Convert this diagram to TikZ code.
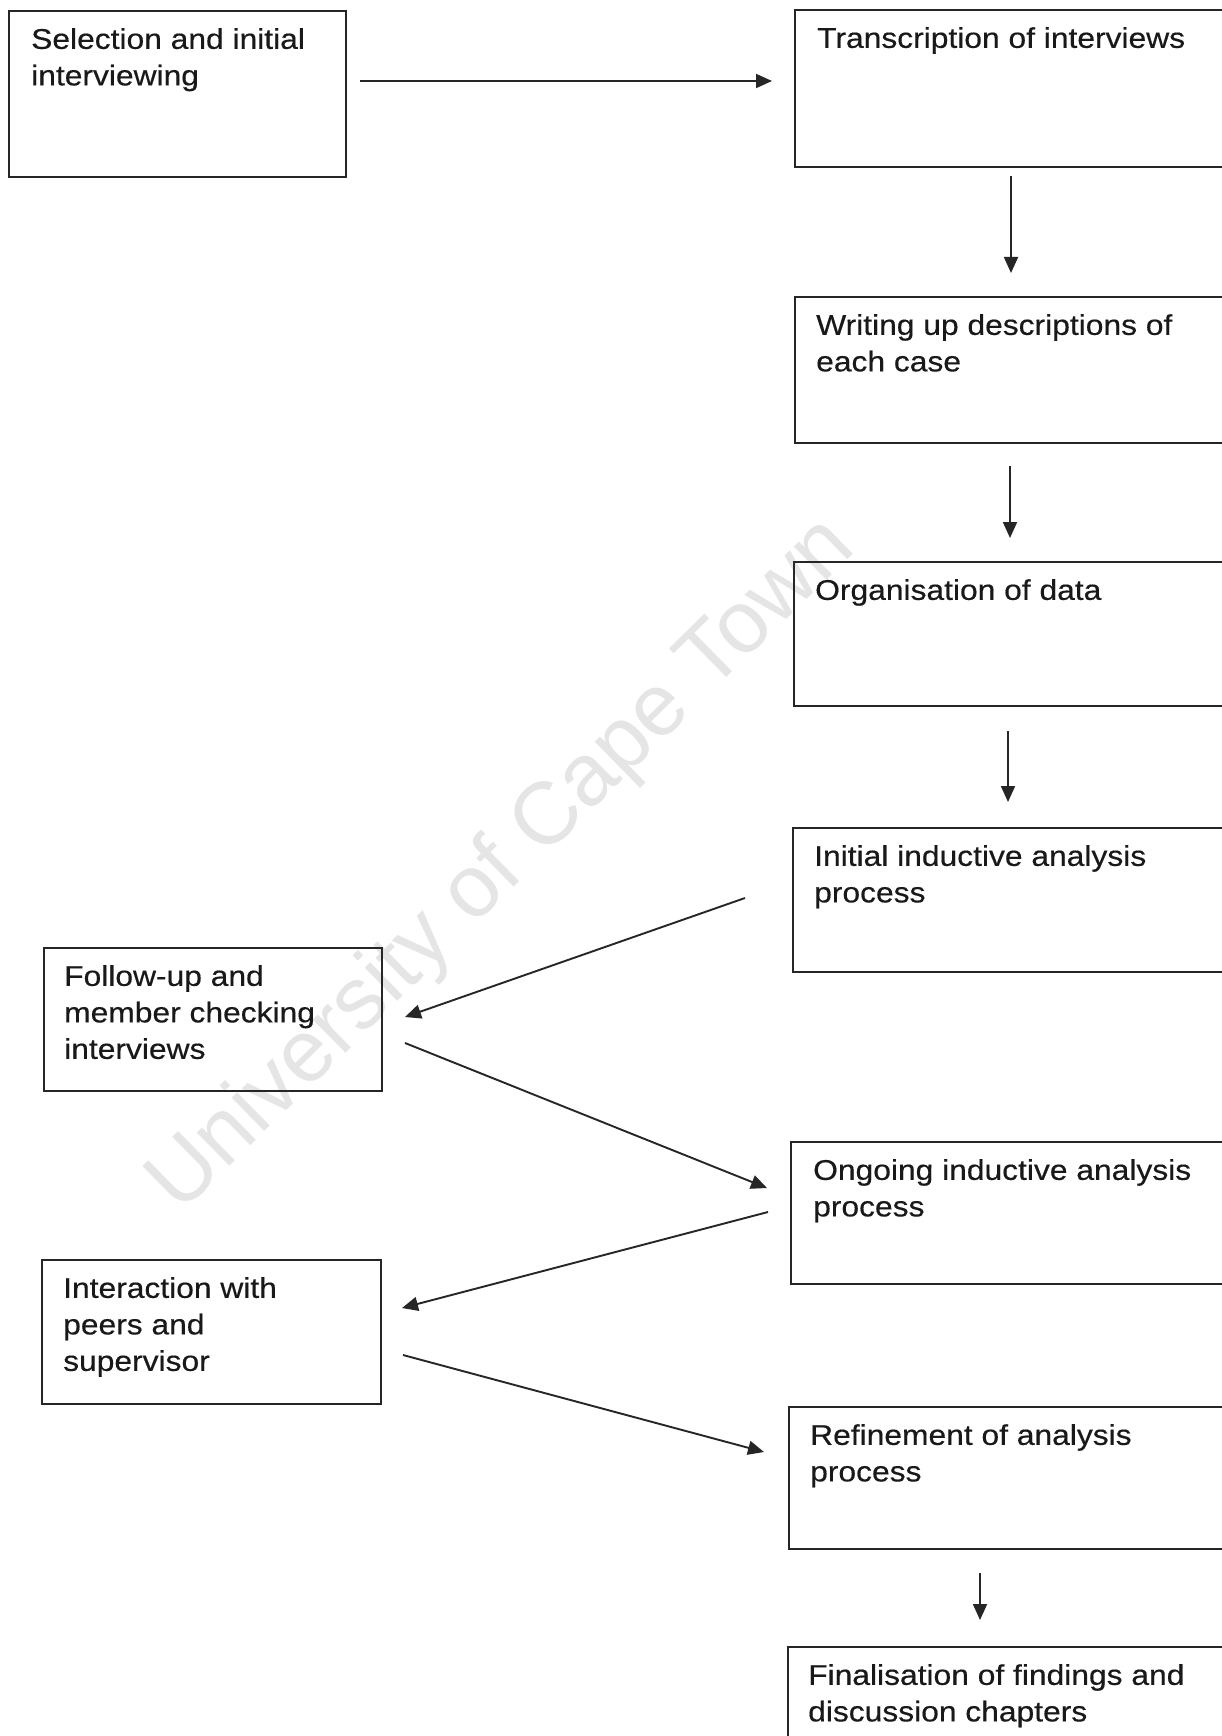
\documentclass[tikz,border=0pt]{standalone}
\usepackage{fontspec}
\newfontfamily\boxfont{Liberation Sans}[FakeStretch=1.115,FakeBold=0.4]
\newfontfamily\wmfont{Liberation Sans}
\usetikzlibrary{arrows.meta}
\begin{document}
\begin{tikzpicture}[x=1pt,y=-1pt,
  box/.style={draw=black!85, line width=1.8pt, anchor=north west, inner sep=0pt, outer sep=0pt},
  lbl/.style={anchor=north west, inner sep=0pt, align=left, font=\boxfont\fontsize{28.5}{36.5}\selectfont, text=black!90},
  arr/.style={draw=black!85, line width=1.9pt, -{Triangle[length=16pt,width=14pt]}},
  wm/.style={rotate=44.5, inner sep=0pt, font=\wmfont\fontsize{88}{100}\selectfont, text=black!10}]
\useasboundingbox (0,0) rectangle (1222,1736);
\clip (0,0) rectangle (1222,1736);
\fill[white] (0,0) rectangle (1222,1736);
% watermark
\node[wm] (wmark) at (503,866) {University of Cape Town};
% boxes
\node[box, minimum width=337pt, minimum height=166pt] (a) at (9,11) {};
\node[box, minimum width=445pt, minimum height=157pt] (b) at (795,10) {};
\node[box, minimum width=445pt, minimum height=146pt] (c) at (795,297) {};
\node[box, minimum width=446pt, minimum height=144pt] (d) at (794,562) {};
\node[box, minimum width=447pt, minimum height=144pt] (e) at (793,828) {};
\node[box, minimum width=338pt, minimum height=143pt] (f) at (44,948) {};
\node[box, minimum width=449pt, minimum height=142pt] (g) at (791,1142) {};
\node[box, minimum width=339pt, minimum height=144pt] (h) at (42,1260) {};
\node[box, minimum width=451pt, minimum height=142pt] (i) at (789,1407) {};
\node[box, minimum width=452pt, minimum height=140pt] (j) at (788,1647) {};
% texts
\node[lbl] (ta) at ([xshift=22pt,yshift=-17pt]a.north west) {Selection and initial\\interviewing};
\node[lbl] (tb) at ([xshift=22pt,yshift=-17pt]b.north west) {Transcription of interviews};
\node[lbl] (tc) at ([xshift=21pt,yshift=-17pt]c.north west) {Writing up descriptions of\\each case};
\node[lbl] (td) at ([xshift=21pt,yshift=-17pt]d.north west) {Organisation of data};
\node[lbl] (te) at ([xshift=21pt,yshift=-17pt]e.north west) {Initial inductive analysis\\process};
\node[lbl] (tf) at ([xshift=20pt,yshift=-17pt]f.north west) {Follow-up and\\member checking\\interviews};
\node[lbl] (tg) at ([xshift=22pt,yshift=-17pt]g.north west) {Ongoing inductive analysis\\process};
\node[lbl] (th) at ([xshift=21pt,yshift=-17pt]h.north west) {Interaction with\\peers and\\supervisor};
\node[lbl] (ti) at ([xshift=21pt,yshift=-17pt]i.north west) {Refinement of analysis\\process};
\node[lbl] (tj) at ([xshift=20pt,yshift=-17pt]j.north west) {Finalisation of findings and\\discussion chapters};
% connector end points
\coordinate (ab1) at (360,81);   \coordinate (ab2) at (772,81);
\coordinate (bc1) at (1011,176); \coordinate (bc2) at (1011,273);
\coordinate (cd1) at (1010,466); \coordinate (cd2) at (1010,538);
\coordinate (de1) at (1008,731); \coordinate (de2) at (1008,802);
\coordinate (ef1) at (745,898);  \coordinate (ef2) at (405,1017);
\coordinate (fg1) at (405,1043); \coordinate (fg2) at (767,1188);
\coordinate (gh1) at (768,1212); \coordinate (gh2) at (402,1308);
\coordinate (hi1) at (403,1355); \coordinate (hi2) at (764,1452);
\coordinate (ij1) at (980,1573); \coordinate (ij2) at (980,1620);
% connectors
\draw[arr] (ab1) -- (ab2);
\draw[arr] (bc1) -- (bc2);
\draw[arr] (cd1) -- (cd2);
\draw[arr] (de1) -- (de2);
\draw[arr] (ef1) -- (ef2);
\draw[arr] (fg1) -- (fg2);
\draw[arr] (gh1) -- (gh2);
\draw[arr] (hi1) -- (hi2);
\draw[arr] (ij1) -- (ij2);
\end{tikzpicture}
\end{document}
